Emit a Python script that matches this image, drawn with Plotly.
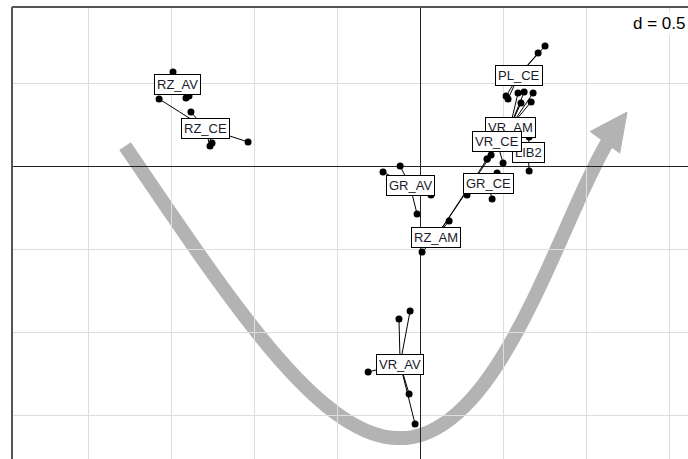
import plotly.graph_objects as go

# group labels (centres of the stars) and the individual points of each group
groups = ["RZ_AV", "RZ_CE", "PL_CE", "LIB2", "VR_AM", "VR_CE", "GR_CE", "GR_AV", "RZ_AM", "VR_AV"]
centre_x = [-1.464, -1.295, 0.596, 0.651, 0.542, 0.464, 0.410, -0.060, 0.096, -0.120]
centre_y = [0.494, 0.229, 0.548, 0.084, 0.235, 0.145, -0.108, -0.120, -0.428, -1.193]
point_x = [
    [-1.488, -1.410, -1.392],
    [-1.572, -1.380, -1.265, -1.253, -1.036],
    [0.753, 0.711, 0.518, 0.530],
    [0.657, 0.657],
    [0.590, 0.627, 0.669, 0.681, 0.608],
    [0.404, 0.500],
    [0.464, 0.283, 0.434],
    [-0.223, -0.120, -0.018, 0.066],
    [0.175, 0.012, 0.404, 0.428],
    [-0.127, -0.060, -0.313, -0.066, -0.030],
]
point_y = [
    [0.566, 0.410, 0.422],
    [0.404, 0.325, 0.120, 0.139, 0.145],
    [0.723, 0.681, 0.422, 0.404],
    [0.175, -0.030],
    [0.440, 0.446, 0.386, 0.440, 0.380],
    [0.042, 0.018],
    [-0.042, -0.175, -0.199],
    [-0.036, 0.000, -0.289, -0.175],
    [-0.331, -0.518, 0.042, 0.066],
    [-0.922, -0.873, -1.241, -1.373, -1.554],
]
grid_step = 0.5

fig = go.Figure()

# stars: segment from group centre to every point
for cx, cy, xs, ys in zip(centre_x, centre_y, point_x, point_y):
    sx, sy = [], []
    for x, y in zip(xs, ys):
        sx += [cx, x, None]
        sy += [cy, y, None]
    fig.add_trace(go.Scatter(x=sx, y=sy, mode="lines",
                             line=dict(color="black", width=1), hoverinfo="skip"))

all_x = [v for xs in point_x for v in xs]
all_y = [v for ys in point_y for v in ys]
fig.add_trace(go.Scatter(x=all_x, y=all_y, mode="markers",
                         marker=dict(color="black", size=7)))

# labels: drawn in order so later boxes sit on top
for name, cx, cy in zip(groups, centre_x, centre_y):
    fig.add_annotation(x=cx, y=cy, text=name, showarrow=False,
                       font=dict(family="Liberation Sans, Arial", size=13, color="#1a1a2a"),
                       bgcolor="white", bordercolor="black", borderwidth=1, borderpad=2)

fig.add_annotation(xref="paper", yref="paper", x=1, y=1, xanchor="right", yanchor="top",
                   text="d = 0.5", showarrow=False, bgcolor="white",
                   font=dict(family="Liberation Sans, Arial", size=17, color="black"),
                   xshift=-1, yshift=-5)

# big grey U-shaped arrow (decoration)
arrow_col = "#b3b3b3"
fig.add_shape(type="path", xref="x", yref="y",
              path="M -1.777 0.120 C -1.145 -0.807, -0.602 -1.651, -0.120 -1.639 "
                   "C 0.482 -1.639, 0.843 -0.325, 1.130 0.145",
              line=dict(color=arrow_col, width=14), layer="below")
fig.add_shape(type="path", xref="x", yref="y",
              path="M 1.247 0.325 L 1.025 0.208 L 1.203 0.078 Z",
              fillcolor=arrow_col, line=dict(color=arrow_col, width=1), layer="below")

# frame (left and top edges visible)
fig.add_shape(type="line", xref="paper", yref="paper", x0=0, x1=0, y0=0, y1=1,
              line=dict(color="#555555", width=2))
fig.add_shape(type="line", xref="paper", yref="paper", x0=0, x1=1, y0=1, y1=1,
              line=dict(color="#555555", width=2))

axis_common = dict(showticklabels=False, ticks="", showgrid=True, gridcolor="#dddddd",
                   gridwidth=1, dtick=grid_step, tick0=0, zeroline=True,
                   zerolinecolor="#222222", zerolinewidth=1, showline=False)
fig.update_xaxes(range=[-2.458, 1.614], **axis_common)
fig.update_yaxes(range=[-1.765, 0.958], **axis_common)

fig.update_layout(width=688, height=459, showlegend=False,
                  margin=dict(l=12, r=0, t=7, b=0),
                  plot_bgcolor="white", paper_bgcolor="white")

fig.write_html("out.html", config={"displayModeBar": False},
               post_script="document.body.style.margin='0';document.body.style.overflow='hidden';")
